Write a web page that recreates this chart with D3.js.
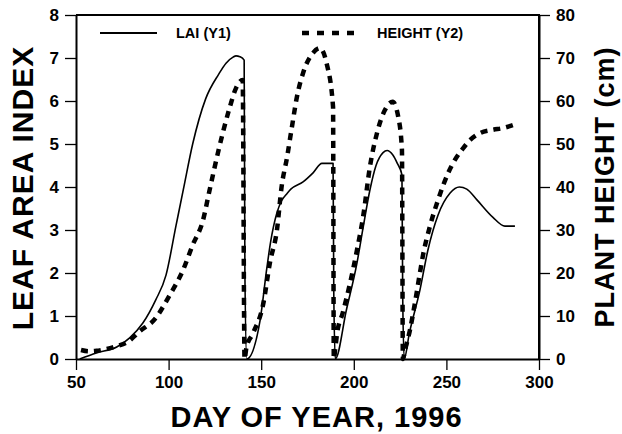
<!DOCTYPE html>
<html>
<head>
<meta charset="utf-8">
<script src="https://cdn.jsdelivr.net/npm/d3@7"></script>
<style>
  html, body { margin: 0; padding: 0; background: #fff; }
  svg { display: block; font-family: Arial, "Liberation Sans", sans-serif; }
</style>
</head>
<body>
<div id="chart"></div>
<script>
const W = 622, H = 434;
const M = { left: 76, right: 83, top: 15, bottom: 75 };

// LAI (left axis) — [day, LAI]
const laiDays = [52, 61, 72, 79, 86, 93, 98.6, 104, 108, 113, 120, 127, 131, 134.8, 136.4, 138.5, 140.8,
  141.2, 142.2, 149.4, 153, 155, 158.5, 161, 164, 166, 172.6, 178, 182.8, 188.8,
  189.2, 190, 196, 201.7, 205, 208.7, 212, 215.8, 218, 221, 223.5, 226,
  226.4, 227.2, 230, 235.7, 240, 245.5, 252, 257, 261, 266.5, 275, 281.6, 287];
const laiVals = [0, 0.14, 0.28, 0.49, 0.83, 1.37, 1.95, 3.1, 3.95, 5.0, 6.05, 6.62, 6.88, 7.02, 7.05, 7.03, 6.95,
  2.0, 0, 0.9, 2.1, 2.7, 3.4, 3.68, 3.85, 3.95, 4.12, 4.33, 4.55, 4.55,
  1.5, 0, 1.14, 2.23, 3.05, 3.93, 4.5, 4.8, 4.85, 4.75, 4.55, 4.28,
  1.5, 0, 0.6, 1.6, 2.53, 3.35, 3.86, 4.0, 3.95, 3.7, 3.3, 3.09, 3.09];

// plant height (right axis) — [day, cm]
const htDays = [52.7, 57, 61, 66, 72, 78, 84, 93, 100, 107.8, 113, 118.6, 122, 127, 132.6, 136.4, 140, 141,
  142, 145.6, 151, 154.8, 158.5, 161, 164, 166.6, 169.3, 172.6, 178, 181.7, 185.3, 188.8, 189.2,
  190, 191, 194, 198, 201.7, 205, 208.7, 212.5, 216.8, 221, 224, 226, 226.5,
  227.6, 230.3, 233, 235.7, 237.4, 241, 245.5, 251, 254.6, 259, 263, 268, 275, 280.5, 286];
const htVals = [2.1, 1.8, 1.9, 2.3, 3.0, 4.0, 6.3, 9.5, 14.4, 20.7, 26.5, 32.3, 39, 48.6, 57.9, 63, 64.9, 0,
  2.6, 6, 12.6, 22.6, 30, 40, 47, 54, 61, 66.5, 71.2, 72.3, 68.8, 58.6, 0,
  2.5, 6, 10.7, 17.7, 25.3, 33, 44.7, 52.5, 57.9, 59.8, 56.3, 48.6, 0,
  2, 6.7, 13, 20, 24.2, 30.7, 37, 43.3, 46.3, 49, 51, 52.5, 53.3, 53.7, 54.4];

const xTicks = [50, 100, 150, 200, 250, 300];
const y1Ticks = [0, 1, 2, 3, 4, 5, 6, 7, 8];
const y2Ticks = [0, 10, 20, 30, 40, 50, 60, 70, 80];

const x = d3.scaleLinear().domain([50, 300]).range([M.left, W - M.right]);
const y1 = d3.scaleLinear().domain([0, 8]).range([H - M.bottom, M.top]);
const y2 = d3.scaleLinear().domain([0, 80]).range([H - M.bottom, M.top]);

const svg = d3.select('#chart').append('svg')
  .attr('width', W).attr('height', H);

// frame: top and right lines
svg.append('path')
  .attr('d', `M${M.left},${M.top}H${W - M.right}V${H - M.bottom}`)
  .attr('fill', 'none').attr('stroke', '#000').attr('stroke-width', 2);

function styleAxis(g) {
  g.selectAll('.domain').attr('stroke', '#000').attr('stroke-width', 2);
  g.selectAll('.tick line').attr('stroke', '#000').attr('stroke-width', 1.3);
  g.selectAll('.tick text').attr('font-size', 17).attr('font-weight', 'bold').attr('fill', '#000')
    .attr('font-family', 'Arial, "Liberation Sans", sans-serif');
}

svg.append('g')
  .attr('transform', `translate(0,${H - M.bottom})`)
  .call(d3.axisBottom(x).tickValues(xTicks).tickSize(11).tickPadding(6).tickSizeOuter(0))
  .call(styleAxis);

svg.append('g')
  .attr('transform', `translate(${M.left},0)`)
  .call(d3.axisLeft(y1).tickValues(y1Ticks).tickSize(11).tickPadding(6).tickSizeOuter(0))
  .call(styleAxis);

svg.append('g')
  .attr('transform', `translate(${W - M.right},0)`)
  .call(d3.axisRight(y2).tickValues(y2Ticks).tickSize(11).tickPadding(6).tickSizeOuter(0))
  .call(styleAxis);

// series
const laiData = laiDays.map((d, i) => [d, laiVals[i]]);
const htData = htDays.map((d, i) => [d, htVals[i]]);

svg.append('path')
  .datum(laiData)
  .attr('d', d3.line().curve(d3.curveMonotoneX).x(d => x(d[0])).y(d => y1(d[1])))
  .attr('fill', 'none').attr('stroke', '#000').attr('stroke-width', 1.6)
  .attr('stroke-linejoin', 'round');

svg.append('path')
  .datum(htData)
  .attr('d', d3.line().curve(d3.curveMonotoneX).x(d => x(d[0])).y(d => y2(d[1])))
  .attr('fill', 'none').attr('stroke', '#000').attr('stroke-width', 4.5)
  .attr('stroke-dasharray', '7,6');

// legend
const leg = svg.append('g').attr('font-size', 14.5).attr('font-weight', 'bold');
leg.append('line').attr('x1', 100).attr('x2', 157).attr('y1', 33).attr('y2', 33)
  .attr('stroke', '#000').attr('stroke-width', 2.2);
leg.append('text').attr('x', 176).attr('y', 38).text('LAI (Y1)');
leg.append('line').attr('x1', 302).attr('x2', 354).attr('y1', 33).attr('y2', 33)
  .attr('stroke', '#000').attr('stroke-width', 4.5).attr('stroke-dasharray', '7,8');
leg.append('text').attr('x', 377).attr('y', 38).text('HEIGHT (Y2)');

// axis titles
svg.append('text')
  .attr('x', x(175) + 9).attr('y', 427)
  .attr('text-anchor', 'middle').attr('font-size', 29).attr('font-weight', 'bold')
  .attr('letter-spacing', 1)
  .text('DAY OF YEAR, 1996');

svg.append('text')
  .attr('transform', `translate(33,${(M.top + H - M.bottom) / 2 + 1}) rotate(-90)`)
  .attr('text-anchor', 'middle').attr('font-size', 30).attr('font-weight', 'bold')
  .attr('letter-spacing', 1)
  .text('LEAF AREA INDEX');

svg.append('text')
  .attr('transform', `translate(614,${(M.top + H - M.bottom) / 2}) rotate(-90)`)
  .attr('text-anchor', 'middle').attr('font-size', 27).attr('font-weight', 'bold')
  .attr('letter-spacing', 1)
  .text('PLANT HEIGHT (cm)');
</script>
</body>
</html>
